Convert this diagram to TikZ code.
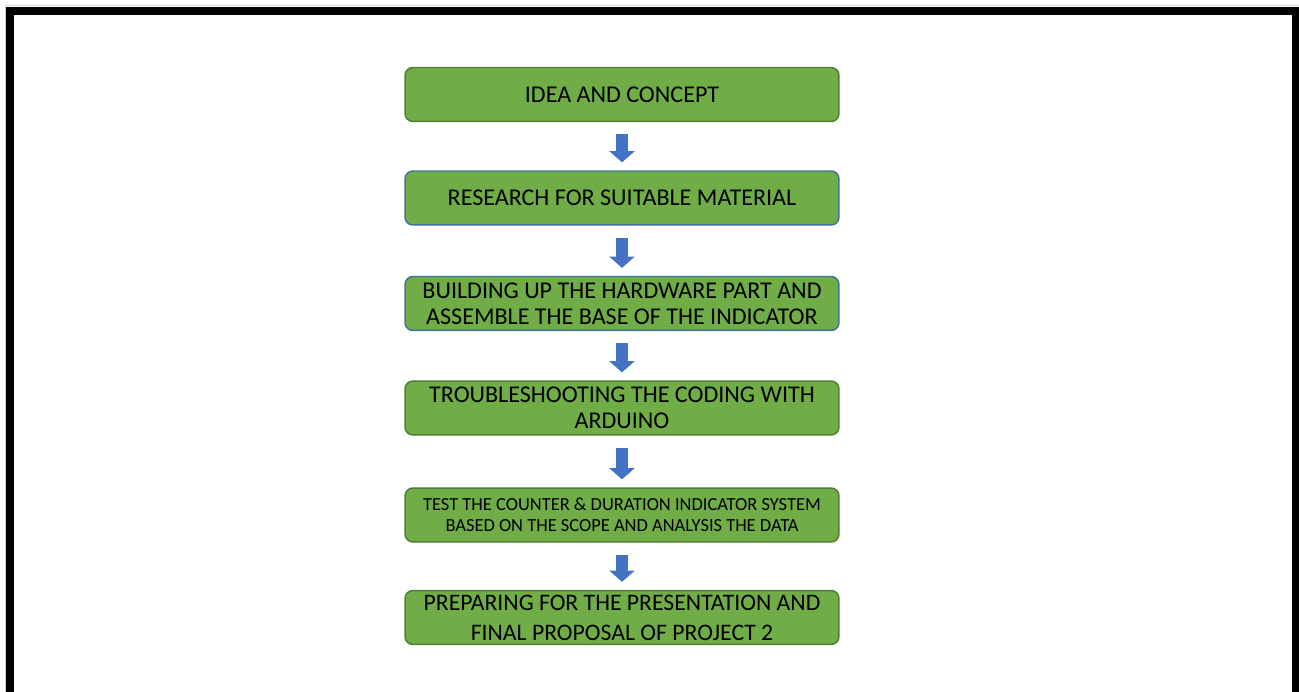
\documentclass[tikz,border=0pt]{standalone}
\usepackage{fontspec}
\setmainfont{Carlito}
\usetikzlibrary{arrows.meta}
\definecolor{stagegreen}{HTML}{70AD47}
\definecolor{greenedge}{HTML}{507E32}
\definecolor{blueedge}{HTML}{41719C}
\definecolor{arrowblue}{HTML}{4472C4}
\begin{document}
\begin{tikzpicture}[x=0.02cm, y=-0.02cm,
		stage/.style={draw=greenedge, fill=stagegreen, line width=0.85pt, rounded corners=4.5pt,
			minimum width=8.68cm, minimum height=1.08cm, align=center, inner sep=0pt,
			font=\fontsize{13.7}{15}\selectfont},
		down/.style={arrowblue, line width=7.1pt, -{Triangle[width=14.2pt, length=6.4pt]},
			shorten <=6.8pt, shorten >=4.5pt}]
		\useasboundingbox (0,0) rectangle (1299,692);
		
		% frame, open at the bottom
		\draw [gray!35, line width=0.6pt] (5.5,720) -- (5.5,5.5) -- (1299,5.5);
		\draw [line width=4.5pt] (10,720) -- (10,11) -- (1295.5,11) -- (1295.5,720);
		
		\node [stage] (idea) at (622,94.5) {IDEA AND CONCEPT};
		\node [stage, draw=blueedge] (research) at (622,198) {RESEARCH FOR SUITABLE MATERIAL};
		\node [stage, draw=blueedge] (hardware) at (622,303.5) {BUILDING UP THE HARDWARE PART AND\\ASSEMBLE THE BASE OF THE INDICATOR};
		\node [stage] (coding) at (622,408) {TROUBLESHOOTING THE CODING WITH\\ARDUINO};
		\node [stage, font=\fontsize{10.5}{11.7}\selectfont] (test) at (622,515) {TEST THE COUNTER \& DURATION INDICATOR SYSTEM\\BASED ON THE SCOPE AND ANALYSIS THE DATA};
		\node [stage, font=\fontsize{13.5}{17}\selectfont] (present) at (622,617.5) {PREPARING FOR THE PRESENTATION AND\\FINAL PROPOSAL OF PROJECT 2};
		
		\draw [down] (idea) -- (research);
		\draw [down] (research) -- (hardware);
		\draw [down] (hardware) -- (coding);
		\draw [down] (coding) -- (test);
		\draw [down] (test) -- (present);
		
\end{tikzpicture}
\end{document}
